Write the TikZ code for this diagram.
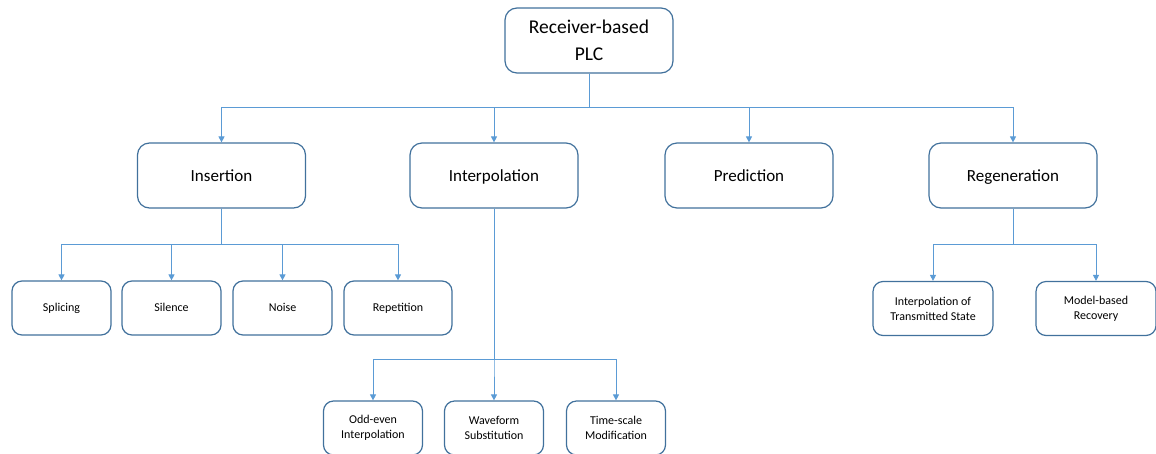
\documentclass[tikz,border=0pt]{standalone}
\usepackage{fontspec}
\setmainfont{Carlito}
\usetikzlibrary{arrows.meta}
\definecolor{boxline}{HTML}{41719C}
\definecolor{linkline}{HTML}{5B9BD5}
\tikzset{
  bigbox/.style={draw=boxline, line width=1.2pt, rounded corners=12pt, fill=white,
    minimum width=168pt, minimum height=65pt, inner sep=0pt, align=center,
    font=\fontsize{17}{21}\selectfont},
  rootbox/.style={bigbox, font=\fontsize{19.5}{27}\selectfont},
  smallbox/.style={draw=boxline, line width=1.2pt, rounded corners=10pt, fill=white,
    minimum width=99pt, minimum height=54pt, inner sep=0pt, align=center,
    font=\fontsize{12}{15}\selectfont},
  bigline/.style={text height=11pt, text depth=0pt},
  smallline/.style={text height=7.8pt, text depth=0pt},
  link/.style={draw=linkline, line width=0.9pt, -{Triangle[width=6pt,length=6pt]}},
}
\begin{document}
\begin{tikzpicture}[x=1pt,y=-1pt]
\useasboundingbox (0,0) rectangle (1156,453);
\begin{scope}
\clip (0,0) rectangle (1156,453);
% root
\node[rootbox] (root) at (589,40.5) {Receiver-based\\PLC};
% first level
\node[bigbox, bigline] (ins) at (221.5,175.5) {Insertion};
\node[bigbox, bigline] (itp) at (494,175.5) {Interpolation};
\node[bigbox, bigline] (pre) at (749,175.5) {Prediction};
\node[bigbox, bigline] (reg) at (1013,175.5) {Regeneration};
% insertion methods
\node[smallbox, smallline] (spl) at (61.5,308) {Splicing};
\node[smallbox, smallline] (sil) at (171.5,308) {Silence};
\node[smallbox, smallline] (noi) at (282.5,308) {Noise};
\node[smallbox, smallline, minimum width=108pt] (rep) at (398,308) {Repetition};
% interpolation methods
\node[smallbox] (odd) at (373,428) {Odd-even\\Interpolation};
\node[smallbox] (wav) at (494,428) {Waveform\\Substitution};
\node[smallbox] (tsm) at (616,428) {Time-scale\\Modification};
% regeneration methods
\node[smallbox, minimum width=120pt] (its) at (933,308.5) {Interpolation of\\Transmitted State};
\node[smallbox, minimum width=120pt] (mbr) at (1096,308.5) {Model-based\\Recovery};
% bus junctions
\coordinate (b0) at (589,107);
\coordinate (b1) at (221.5,244);
\coordinate (b2) at (494,359);
\coordinate (b3) at (1013,244);
% connectors
\foreach \t in {ins,itp,pre,reg} \draw[link] (root.south) -- (b0) -| (\t.north);
\foreach \t in {spl,sil,noi,rep} \draw[link] (ins.south) -- (b1) -| (\t.north);
\foreach \t in {odd,wav,tsm} \draw[link] (itp.south) -- (b2) -| (\t.north);
\foreach \t in {its,mbr} \draw[link] (reg.south) -- (b3) -| (\t.north);
\end{scope}
\end{tikzpicture}
\end{document}
